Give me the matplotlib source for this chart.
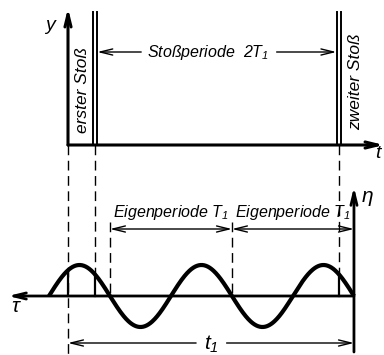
import numpy as np
import matplotlib.pyplot as plt

# Zeitwerte in Einheiten der Eigenperiode T1
T1 = 1.0
stoss_zeiten = [0.22, 2.22]        # erster und zweiter Stoss (Abstand 2*T1)
stoss_breite = 0.035               # Doppellinie
kurve_start = -0.156               # Beginn der Schwingung (tau-Achse)
kurve_perioden = 2.5
amplitude = 31.0

schrift = 'Liberation Sans'
plt.rcParams['font.family'] = [schrift, 'DejaVu Sans']
plt.rcParams['mathtext.fontset'] = 'custom'
plt.rcParams['mathtext.it'] = schrift + ':italic'
plt.rcParams['mathtext.rm'] = schrift + ':italic'

fig = plt.figure(figsize=(3.84, 3.55), dpi=100)
ax = fig.add_axes([0, 0, 1, 1])
ax.set_xlim(-68 / 122, 316 / 122)
ax.set_ylim(355, 0)
ax.axis('off')

oben = 145      # Grundlinie oberes Bild
unten = 296     # Grundlinie unteres Bild
k = 'black'
kopf = dict(arrowstyle='->,head_length=0.9,head_width=0.22', color=k, lw=1.0,
            shrinkA=0, shrinkB=0)
fs = 11.5

# oberes Bild: Achsen
ax.annotate('', xy=(0, 8), xytext=(0, oben), arrowprops=dict(kopf, lw=2.2))
ax.annotate('', xy=(316 / 122, oben), xytext=(0, oben), arrowprops=dict(kopf, lw=2.2))
ax.text(-0.15, 26, 'y', style='italic', fontsize=14, ha='center', va='center')
ax.text(2.54, 154, 't', style='italic', fontsize=14, ha='center', va='center')

# Stoesse als Doppellinien
for s in stoss_zeiten:
    for dx in (-stoss_breite / 2, stoss_breite / 2):
        ax.plot([s + dx, s + dx], [12, oben], color=k, lw=1.4)

ax.text(0.115, 90, 'erster Stoß', rotation=90, style='italic', fontsize=12.5,
        ha='center', va='center')
ax.text(2.36, 82, 'zweiter Stoß', rotation=90, style='italic', fontsize=12.5,
        ha='center', va='center')

# Stossperiode 2T1
y_sp = 52
ax.annotate('', xy=(stoss_zeiten[0] + 0.02, y_sp), xytext=(0.6, y_sp), arrowprops=kopf)
ax.annotate('', xy=(stoss_zeiten[1] - 0.02, y_sp), xytext=(1.71, y_sp), arrowprops=kopf)
ax.text(1.15, y_sp, r'Stoßperiode  2$T_1$', style='italic', fontsize=fs,
        ha='center', va='center')

# unteres Bild: Schwingung
t = np.linspace(kurve_start, kurve_start + kurve_perioden * T1, 500)
eta = unten - amplitude * np.sin(2 * np.pi * (t - kurve_start) / T1)
ax.plot(t, eta, color=k, lw=3.0, solid_capstyle='butt')

t_ende = kurve_start + kurve_perioden * T1
ax.annotate('', xy=(-60 / 122, unten), xytext=(t_ende, unten), arrowprops=dict(kopf, lw=2.0))
ax.annotate('', xy=(t_ende, 187), xytext=(t_ende, 352), arrowprops=dict(kopf, lw=2.0))
ax.text(-0.42, 307, r'$\tau$', fontsize=15, ha='center', va='center')
ax.text(2.45, 198, r'$\eta$', fontsize=15, ha='center', va='center')


def wert(x):
    return unten - amplitude * np.sin(2 * np.pi * (x - kurve_start) / T1)


# senkrechte Linien (gestrichelt bis zur Kurve, dann voll)
strich = dict(color=k, lw=1.0, dashes=(7, 4))
ax.plot([0, 0], [oben, 355], **strich)
ax.plot([0, 0], [wert(0), unten], color=k, lw=1.6)
for s in stoss_zeiten:
    ax.plot([s, s], [oben, wert(s)], **strich)
    ax.plot([s, s], [wert(s), unten], color=k, lw=1.6)

# Eigenperioden
e0 = t_ende - 2 * T1
y_ep = 229
for a in (e0, e0 + T1):
    ax.annotate('', xy=(a, y_ep), xytext=(a + T1, y_ep),
                arrowprops=dict(arrowstyle='<->,head_length=0.9,head_width=0.22',
                                color=k, lw=1.0, shrinkA=0, shrinkB=0))
    ax.text(a + T1 / 2, 213, r'Eigenperiode $T_1$', style='italic', fontsize=fs,
            ha='center', va='center')
ax.plot([e0, e0], [222, unten], **strich)
ax.plot([e0 + T1, e0 + T1], [222, unten], **strich)

# t1
y_t1 = 343
ax.annotate('', xy=(0, y_t1), xytext=(1.05, y_t1), arrowprops=kopf)
ax.annotate('', xy=(t_ende, y_t1), xytext=(1.3, y_t1), arrowprops=kopf)
ax.text(1.175, y_t1 + 1, r'$t_1$', fontsize=15, ha='center', va='center')

fig.savefig('out.png', dpi=100)
